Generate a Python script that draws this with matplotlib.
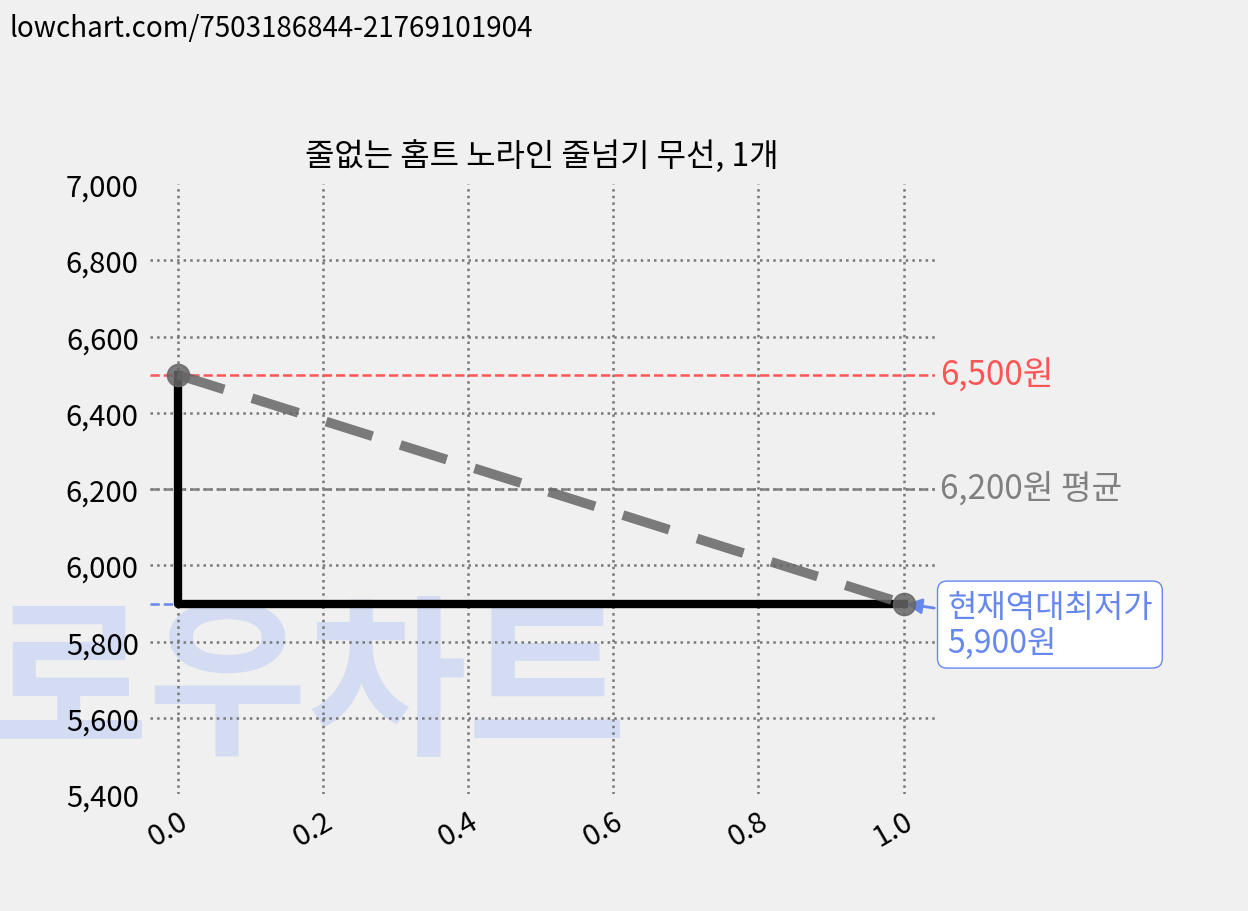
import matplotlib
matplotlib.use("Agg")
import matplotlib.pyplot as plt

plt.rcParams['font.family'] = ['Noto Sans CJK KR', 'DejaVu Sans']

x_vals = [0.0, 1.0]
prices = [6500, 5900]
max_price = 6500
avg_price = 6200
min_price = 5900
yticks = [5400, 5600, 5800, 6000, 6200, 6400, 6600, 6800, 7000]
xticks = [0.0, 0.2, 0.4, 0.6, 0.8, 1.0]
title = "줄없는 홈트 노라인 줄넘기 무선, 1개"
url = "lowchart.com/7503186844-21769101904"

bg = '#f0f0f0'
fig = plt.figure(figsize=(12.48, 9.12), dpi=100, facecolor=bg)
ax = fig.add_axes([0.120, 0.128, 0.629, 0.669], facecolor=bg)
ax.set_xlim(-0.0386, 1.043)
ax.set_ylim(5400, 7000)
for s in ax.spines.values():
    s.set_visible(False)
ax.set_yticks(yticks)
ax.set_yticklabels([f"{v:,}" for v in yticks], fontsize=21, fontweight='light')
ax.set_xticks(xticks)
ax.set_xticklabels([f"{v:.1f}" for v in xticks], fontsize=21, fontweight='light',
                   rotation=30, ha='right', rotation_mode='anchor')
ax.tick_params(length=0, pad=8)
ax.grid(True, axis='x', linestyle=':', color='#777777', linewidth=1.8)
for v in yticks[1:-1]:
    ax.axhline(v, linestyle=':', color='#777777', linewidth=1.8, zorder=1)

ax.text(0.18, 5680, "로우차트", fontsize=125, fontweight='black', color='#d3dcf2',
        ha='center', va='center', zorder=0)

ax.axhline(max_price, color='#ff5555', linestyle='--', linewidth=1.8, zorder=2)
ax.axhline(avg_price, color='#808080', linestyle='--', linewidth=1.8, zorder=2)
ax.plot([-0.0386, 1.0], [min_price, min_price], color='#6688ee', linestyle='--', linewidth=1.8, zorder=2)

ax.plot([x_vals[0], x_vals[0], x_vals[1]], [prices[0], min_price, prices[1]],
        color='black', linewidth=6, zorder=3)
ax.plot(x_vals, prices, color='#666666', alpha=0.85, linestyle=(0, (5, 3)), linewidth=7,
        marker='o', markersize=16, zorder=4)

ax.text(1.05, max_price, f"{max_price:,}원", color='#ff5555', fontsize=24, va='center',
        fontweight='light', clip_on=False)
ax.text(1.05, avg_price, f"{avg_price:,}원 평균", color='#808080', fontsize=24, va='center',
        fontweight='light', clip_on=False)
ax.annotate(f"현재역대최저가\n{min_price:,}원", xy=(1.0, min_price), xytext=(1.06, min_price - 55),
            color='#6688ee', fontsize=23, fontweight='light', va='center', ha='left', linespacing=1.15,
            bbox=dict(boxstyle='round,pad=0.3', fc='white', ec='#6688ee'),
            arrowprops=dict(arrowstyle='-|>', color='#6688ee', lw=2), annotation_clip=False)

ax.set_title(title, fontsize=23, pad=14)
fig.text(0.008, 0.985, url, fontsize=20, va='top', ha='left')

fig.savefig("out.png", dpi=100, facecolor=bg)
